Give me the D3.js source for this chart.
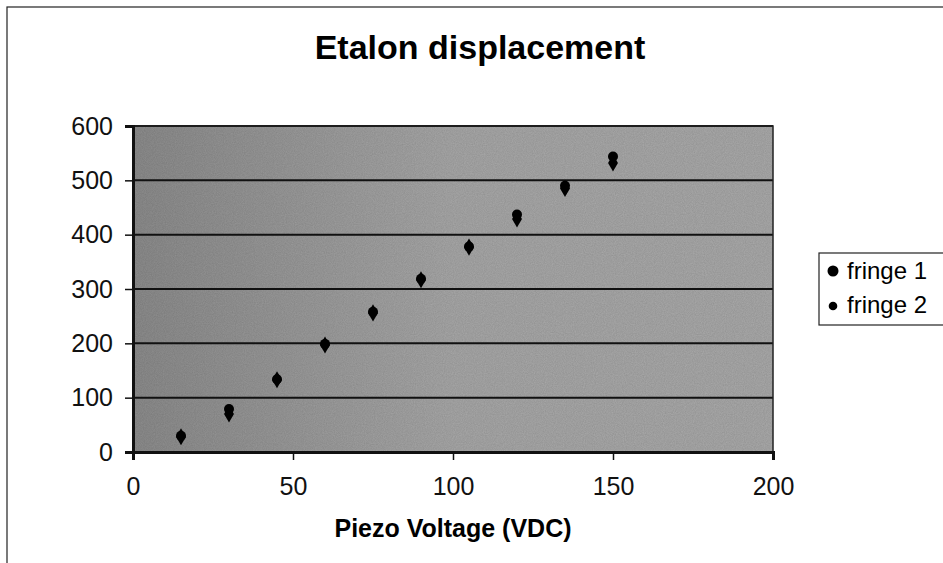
<!DOCTYPE html>
<html>
<head>
<meta charset="utf-8">
<script src="https://cdn.jsdelivr.net/npm/d3@7"></script>
<style>
    body { margin: 0; background: #fff; }
    svg { display: block; font-family: "Liberation Sans", Arial, sans-serif; }
</style>
</head>
<body>
<svg id="chart"></svg>
<script>
// data
const voltage = [15, 30, 45, 60, 75, 90, 105, 120, 135, 150]
const fringe1 = [28, 70, 133, 197, 256, 317, 377, 429, 485, 532]
const fringe2 = [30, 79, 134, 199, 258, 319, 378, 437, 490, 544]
const seriesNames = ["fringe 1", "fringe 2"]
const xTicks = [0, 50, 100, 150, 200]
const yTicks = [0, 100, 200, 300, 400, 500, 600]

const width = 943, height = 563
const plot = {left: 133, top: 126, right: 773, bottom: 452}

const svg = d3.select("#chart").attr("width", width).attr("height", height)

// outer chart border (only top and left visible in the scan)
svg.append("rect")
    .attr("x", 7).attr("y", 7)
    .attr("width", width + 10).attr("height", height + 10)
    .attr("fill", "#fff").attr("stroke", "#222").attr("stroke-width", 1.2)

// gray gradient plot background with a bit of scan grain
const defs = svg.append("defs")
const grad = defs.append("linearGradient").attr("id", "bg")
grad.append("stop").attr("offset", "0%").attr("stop-color", "#8c8c8c")
grad.append("stop").attr("offset", "50%").attr("stop-color", "#a8a8a8")
grad.append("stop").attr("offset", "100%").attr("stop-color", "#aaaaaa")
const grain = defs.append("filter").attr("id", "grain")
grain.append("feTurbulence").attr("type", "fractalNoise")
    .attr("baseFrequency", 0.9).attr("numOctaves", 2).attr("result", "n")
grain.append("feColorMatrix").attr("type", "matrix")
    .attr("values", "0 0 0 0 0  0 0 0 0 0  0 0 0 0 0  0 0 0 0.14 0")
grain.append("feComposite").attr("in2", "SourceGraphic").attr("operator", "in")

const x = d3.scaleLinear().domain([0, 200]).range([plot.left, plot.right])
const y = d3.scaleLinear().domain([0, 600]).range([plot.bottom, plot.top])

svg.append("rect")
    .attr("x", plot.left).attr("y", plot.top)
    .attr("width", plot.right - plot.left).attr("height", plot.bottom - plot.top)
    .attr("fill", "url(#bg)")
svg.append("rect")
    .attr("x", plot.left).attr("y", plot.top)
    .attr("width", plot.right - plot.left).attr("height", plot.bottom - plot.top)
    .attr("fill", "#000")
    .attr("filter", "url(#grain)")

// gridlines
svg.append("g")
    .selectAll("line")
    .data(yTicks)
    .join("line")
    .attr("x1", plot.left).attr("x2", plot.right)
    .attr("y1", d => y(d)).attr("y2", d => y(d))
    .attr("stroke", "#111").attr("stroke-width", 2)

// plot border
svg.append("rect")
    .attr("x", plot.left).attr("y", plot.top)
    .attr("width", plot.right - plot.left).attr("height", plot.bottom - plot.top)
    .attr("fill", "none").attr("stroke", "#222").attr("stroke-width", 1.5)

// axes
const yAxis = svg.append("g")
    .attr("transform", "translate(" + plot.left + ",0)")
    .call(d3.axisLeft(y).tickValues(yTicks).tickSize(8).tickPadding(12))
const xAxis = svg.append("g")
    .attr("transform", "translate(0," + plot.bottom + ")")
    .call(d3.axisBottom(x).tickValues(xTicks).tickSize(8).tickPadding(17))
for (const ax of [xAxis, yAxis]) {
    ax.select(".domain").attr("stroke", "#111").attr("stroke-width", 3)
    ax.selectAll(".tick line").attr("stroke", "#111").attr("stroke-width", 1.5)
    ax.selectAll(".tick text")
        .attr("fill", "#111")
        .style("font-family", "'Liberation Sans', Arial, sans-serif")
        .style("font-size", "25px")
}

// points
const f1 = voltage.map((v, i) => ({v: v, d: fringe1[i]}))
const f2 = voltage.map((v, i) => ({v: v, d: fringe2[i]}))
svg.append("g")
    .selectAll("path")
    .data(f1)
    .join("path")
    .attr("transform", d => "translate(" + x(d.v) + "," + y(d.d) + ")")
    .attr("d", d3.symbol().type(d3.symbolDiamond).size(85))
    .attr("fill", "#000")
svg.append("g")
    .selectAll("circle")
    .data(f2)
    .join("circle")
    .attr("cx", d => x(d.v))
    .attr("cy", d => y(d.d))
    .attr("r", 5)
    .attr("fill", "#000")

// title
svg.append("text")
    .attr("x", 480).attr("y", 59)
    .attr("text-anchor", "middle")
    .style("font-size", "34px").style("font-weight", "bold")
    .text("Etalon displacement")

svg.append("text")
    .attr("x", (plot.left + plot.right) / 2).attr("y", 537)
    .attr("text-anchor", "middle")
    .style("font-size", "25px").style("font-weight", "bold")
    .text("Piezo Voltage (VDC)")

// legend
const legend = svg.append("g")
legend.append("rect")
    .attr("x", 819).attr("y", 253)
    .attr("width", 140).attr("height", 72)
    .attr("fill", "#fff").attr("stroke", "#222").attr("stroke-width", 1.2)
const radii = [5.5, 4.3]
seriesNames.forEach((name, i) => {
    legend.append("circle")
        .attr("cx", 833).attr("cy", 271 + i * 35)
        .attr("r", radii[i]).attr("fill", "#000")
    legend.append("text")
        .attr("x", 847).attr("y", 279 + i * 34)
        .style("font-size", "24px")
        .text(name)
})
</script>
</body>
</html>
